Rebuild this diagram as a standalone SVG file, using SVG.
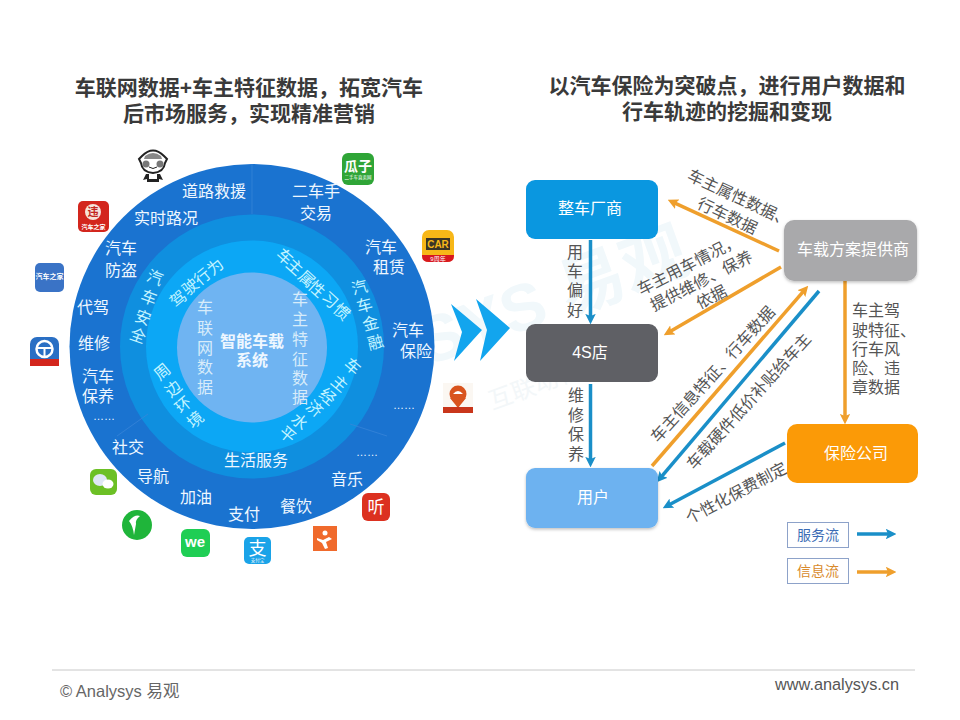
<svg xmlns="http://www.w3.org/2000/svg" width="960" height="720" viewBox="0 0 960 720">
<defs>
<style>
text{font-family:"Liberation Sans","Noto Sans CJK SC",sans-serif}
.t{font-size:21px;font-weight:700;fill:#3a3a3a;text-anchor:middle}
.w{font-size:16px;fill:#eef7ff;text-anchor:middle}
.d{font-size:11px;fill:#eef7ff;text-anchor:middle}
.c{font-size:16px;fill:#c4f4ff;text-anchor:middle}
.i{font-size:16px;fill:#d8ecfa;text-anchor:middle}
.n{font-size:16px;font-weight:700;fill:#eef7ff;text-anchor:middle}
.g{font-size:16px;fill:#555;text-anchor:middle}
.l{font-size:16px;fill:#555}
.b{font-size:16px;fill:#fff;text-anchor:middle}
.o{stroke:#ef9f2c;stroke-width:3.5;fill:none;marker-end:url(#ao)}
.s{stroke:#1a8fc8;stroke-width:3.5;fill:none;marker-end:url(#as)}
.wm{font-size:66px;fill:#f1f8fb;font-weight:700;text-anchor:middle}
.wm2{font-size:24px;fill:#f3f7f9;text-anchor:middle}
.x{fill:#fff;text-anchor:middle}
</style>
<marker id="ao" viewBox="0 0 5 5" markerWidth="3" markerHeight="3" refX="1.5" refY="2.5" orient="auto"><path d="M0 0L5 2.5L0 5L1 2.5Z" fill="#ef9f2c"/></marker>
<marker id="as" viewBox="0 0 5 5" markerWidth="3" markerHeight="3" refX="1.5" refY="2.5" orient="auto"><path d="M0 0L5 2.5L0 5L1 2.5Z" fill="#1a8fc8"/></marker>
<filter id="sh" x="-10%" y="-10%" width="120%" height="125%"><feDropShadow dx="0" dy="1.5" stdDeviation="1.5" flood-color="#000" flood-opacity=".25"/></filter>
</defs>
<rect width="960" height="720" fill="#fff"/>
<g id="watermark">
<text class="wm" transform="translate(560 318) rotate(-20)">SYS 易观</text>
<text class="wm2" transform="translate(560 385) rotate(-20)">互联动物联网</text>
</g>
<g id="titles">
<text class="t" x="249" y="95">车联网数据+车主特征数据，拓宽汽车</text>
<text class="t" x="249" y="121">后市场服务，实现精准营销</text>
<text class="t" x="727" y="93">以汽车保险为突破点，进行用户数据和</text>
<text class="t" x="727" y="119">行车轨迹的挖掘和变现</text>
</g>
<g id="wheel">
<circle cx="252" cy="346.500" r="182.500" fill="#1a73d0"/>
<circle cx="252" cy="346.500" r="132" fill="#0f8fdf"/>
<circle cx="252" cy="346.500" r="106" fill="#0ca7f5"/>
<circle cx="252" cy="347.500" r="75" fill="#6fb4f2"/>
<g stroke="#3b86d8" stroke-width="1" opacity=".7" fill="none"><path d="M252 164V214"/><path d="M117 436L148 414"/><path d="M387 436L350 424"/></g>
</g>
<g id="outer-labels">
<text class="w" x="214" y="197">道路救援</text>
<text class="w" x="166" y="224">实时路况</text>
<text class="w" x="121" y="254">汽车</text><text class="w" x="121" y="276">防盗</text>
<text class="w" x="93" y="313">代驾</text>
<text class="w" x="94" y="349">维修</text>
<text class="w" x="98" y="382">汽车</text><text class="w" x="98" y="402">保养</text>
<text class="d" x="104" y="420">……</text>
<text class="w" x="128" y="453">社交</text>
<text class="w" x="153" y="482">导航</text>
<text class="w" x="196" y="503">加油</text>
<text class="w" x="244" y="520">支付</text>
<text class="w" x="296" y="512">餐饮</text>
<text class="w" x="347" y="485">音乐</text>
<text class="d" x="367" y="456">……</text>
<text class="d" x="404" y="409">……</text>
<text class="w" x="408" y="336">汽车</text><text class="w" x="416" y="357">保险</text>
<text class="w" x="381" y="253">汽车</text><text class="w" x="389" y="273">租赁</text>
<text class="w" x="316" y="197">二车手</text><text class="w" x="316" y="219">交易</text>
<text class="w" x="256" y="466">生活服务</text>
</g>
<g id="ring-labels">
<text class="c" transform="translate(153 283) rotate(20)">汽</text>
<text class="c" transform="translate(147 303) rotate(20)">车</text>
<text class="c" transform="translate(141 323) rotate(20)">安</text>
<text class="c" transform="translate(136 341) rotate(20)">全</text>
<text class="c" transform="translate(361 293) rotate(-15)">汽</text>
<text class="c" transform="translate(366 311) rotate(-15)">车</text>
<text class="c" transform="translate(372 329) rotate(-15)">金</text>
<text class="c" transform="translate(377 348) rotate(-15)">融</text>
<text class="c" transform="translate(182 303) rotate(-40)">驾</text>
<text class="c" transform="translate(194 291) rotate(-40)">驶</text>
<text class="c" transform="translate(206 281) rotate(-40)">行</text>
<text class="c" transform="translate(219 271) rotate(-40)">为</text>
<text class="c" transform="translate(281 261) rotate(42)">车</text>
<text class="c" transform="translate(291 271) rotate(42)">主</text>
<text class="c" transform="translate(303 283) rotate(42)">属</text>
<text class="c" transform="translate(313 293) rotate(42)">性</text>
<text class="c" transform="translate(326 304) rotate(42)">习</text>
<text class="c" transform="translate(338 316) rotate(42)">惯</text>
<text class="c" transform="translate(166 376) rotate(-40)">周</text>
<text class="c" transform="translate(177 393) rotate(-40)">边</text>
<text class="c" transform="translate(187 409) rotate(-40)">环</text>
<text class="c" transform="translate(199 424) rotate(-40)">境</text>
<text class="c" transform="translate(349 371) rotate(40)">车</text>
<text class="c" transform="translate(336 388) rotate(40)">主</text>
<text class="c" transform="translate(324 401) rotate(40)">经</text>
<text class="c" transform="translate(311 413) rotate(40)">济</text>
<text class="c" transform="translate(296 426) rotate(40)">水</text>
<text class="c" transform="translate(284 439) rotate(40)">平</text>
</g>
<g id="inner-labels">
<text class="i" x="205" y="313">车</text><text class="i" x="205" y="334">联</text><text class="i" x="205" y="354">网</text><text class="i" x="205" y="373">数</text><text class="i" x="205" y="393">据</text>
<text class="i" x="300" y="305">车</text><text class="i" x="300" y="325">主</text><text class="i" x="300" y="345">特</text><text class="i" x="300" y="365">征</text><text class="i" x="300" y="384">数</text><text class="i" x="300" y="403">据</text>
<text class="n" x="252" y="347">智能车载</text>
<text class="n" x="252" y="366">系统</text>
</g>
<g id="icons">
<g id="icon-panda"><path d="M142 156q11-11 22 0l3 3-2 4q-1 9-12 10-11-1-12-10l-2-4z" fill="#fff" stroke="#222" stroke-width="2"/><path d="M145 156q8-6 16 0l1 3h-18z" fill="#888"/><circle cx="146" cy="164" r="3.500" fill="#777"/><circle cx="160" cy="164" r="3.500" fill="#777"/><path d="M149 167q4 3 8 0" stroke="#222" fill="none"/><path d="M146 174h14l3 6-4-1v3h-12v-3l-4 1z" fill="#222"/><rect x="149" y="174" width="8" height="5" fill="#fff"/></g>
<g id="icon-guazi"><rect x="342" y="153" width="32" height="32" rx="6" fill="#2fa537"/><text class="x" x="358" y="171" style="font-size:14px;font-weight:700">瓜子</text><text class="x" x="358" y="179" style="font-size:4.500px">二手车直卖网</text></g>
<g id="icon-car"><rect x="422" y="230" width="32" height="32" rx="7" fill="#f7b718"/><rect x="426" y="238" width="24" height="12" fill="#3a3426"/><path d="M422 255h32v1q0 6-7 6h-18q-7 0-7-6z" fill="#d8181f"/><text x="438" y="248" style="font-size:10px;font-weight:700;fill:#f7b718;text-anchor:middle">CAR</text><text class="x" x="438" y="261" style="font-size:6px">9周年</text></g>
<g id="icon-weizhang"><rect x="78" y="201" width="31" height="31" rx="5" fill="#d3261d"/><circle cx="93" cy="212" r="8" fill="#f6e4da"/><text x="93" y="216" style="font-size:11px;font-weight:700;fill:#c3261d;text-anchor:middle">违</text><text class="x" x="93.500" y="229" style="font-size:6px;font-weight:700">汽车之家</text></g>
<g id="icon-autohome"><rect x="35" y="263" width="29" height="29" rx="5" fill="#3a73c6"/><text class="x" x="49.500" y="279" style="font-size:7px;font-weight:700">汽车之家</text></g>
<g id="icon-wheel"><rect x="30" y="337" width="29" height="29" rx="7" fill="#2a6fc4"/><circle cx="44.500" cy="349" r="8" fill="none" stroke="#fff" stroke-width="2.500"/><path d="M37 348h15M44.500 349v7" stroke="#fff" stroke-width="2"/><rect x="30" y="359" width="29" height="7" fill="#d3261d"/></g>
<g id="icon-map"><rect x="443" y="383" width="30" height="30" fill="#fbf7f2"/><circle cx="458" cy="394" r="8.500" fill="#d9541e"/><path d="M450 398l8 10 8-10z" fill="#d9541e"/><path d="M453 394q5-6 10 0z" fill="#fff"/><rect x="443" y="407" width="30" height="6" fill="#c9361b"/></g>
<g id="icon-wechat"><rect x="90" y="469" width="27" height="26" rx="6" fill="#6cc025"/><ellipse cx="100" cy="480" rx="7" ry="6" fill="#dfe7f5"/><ellipse cx="108" cy="484" rx="5.500" ry="4.500" fill="#fff"/></g>
<g id="icon-green"><circle cx="137" cy="525" r="15" fill="#1fb53a"/><path d="M129 521q6-7 11-5-5 4-4 8l-2 11q-1-9-5-14z" fill="#fff"/></g>
<g id="icon-we"><rect x="181" y="529" width="29" height="28" rx="6" fill="#1fce54"/><text class="x" x="195" y="547" style="font-size:15px;font-weight:700">we</text></g>
<g id="icon-alipay"><rect x="244" y="537" width="27" height="27" rx="5" fill="#1aa3e8"/><text class="x" x="257.500" y="555" style="font-size:18px">支</text><text class="x" x="257.500" y="562" style="font-size:4.500px">支付宝</text></g>
<g id="icon-dianping"><rect x="313" y="526" width="24" height="25" fill="#f06a2c"/><circle cx="325" cy="533" r="2.500" fill="#fff"/><path d="M317 538l6 2 6-3 3 2-6 3 2 6-3 1-3-6-5-3z" fill="#fff"/></g>
<g id="icon-ting"><rect x="362" y="493" width="28" height="28" rx="6" fill="#dc3120"/><text class="x" x="376" y="513" style="font-size:17px">听</text></g>
</g>
<g id="chevrons" fill="#12a5ee"><path d="M451 304L482 330L454 361L462 332Z"/><path d="M476 299L510 328L480 361L487 330Z"/></g>
<g id="connectors">
<path class="s" d="M590.500 240V317"/>
<path class="s" d="M590.500 384V460"/>
<path class="o" d="M779 251L674.400 202.900"/>
<path class="o" d="M781 267L670.100 331.500"/>
<path class="o" d="M652 466L803.400 291.300"/>
<path class="s" d="M819 291L661.500 476.700"/>
<path class="s" d="M785 443L669.200 504.700"/>
<path class="o" d="M845 281V417"/>
</g>
<g id="flow-labels">
<text class="g" transform="translate(737 203) rotate(25)">车主属性数据、</text>
<text class="g" transform="translate(725 221) rotate(25)">行车数据</text>
<text class="g" transform="translate(691 270) rotate(-27)">车主用车情况，</text>
<text class="g" transform="translate(704 286) rotate(-27)">提供维修、保养</text>
<text class="g" transform="translate(714 302) rotate(-27)">依据</text>
<text class="g" transform="translate(717 378) rotate(-48)">车主信息特征、行车数据</text>
<text class="g" transform="translate(753 405) rotate(-48)">车载硬件低价补贴给车主</text>
<text class="g" transform="translate(739 498) rotate(-28)">个性化保费制定</text>
<text class="g" x="575" y="258">用</text><text class="g" x="575" y="277">车</text><text class="g" x="575" y="296">偏</text><text class="g" x="575" y="316">好</text>
<text class="g" x="576" y="401">维</text><text class="g" x="576" y="421">修</text><text class="g" x="576" y="440">保</text><text class="g" x="576" y="460">养</text>
<text class="l" x="852" y="316">车主驾</text>
<text class="l" x="852" y="336">驶特征、</text>
<text class="l" x="852" y="355">行车风</text>
<text class="l" x="852" y="374">险、违</text>
<text class="l" x="852" y="393">章数据</text>
</g>
<g id="node-oem"><rect x="526" y="180" width="132" height="59" rx="9" fill="#0a97e0"/><text class="b" x="590" y="214">整车厂商</text></g>
<g id="node-4s"><rect x="526" y="324" width="132" height="58" rx="9" fill="#5f6065"/><text class="b" x="590" y="358">4S店</text></g>
<g id="node-user"><rect x="526" y="468" width="132" height="60" rx="9" fill="#6db2f0" filter="url(#sh)"/><text class="b" x="593" y="503">用户</text></g>
<g id="node-provider"><rect x="784" y="220" width="133" height="61" rx="10" fill="#a9a9ab" filter="url(#sh)"/><text class="b" x="853" y="255">车载方案提供商</text></g>
<g id="node-insurance"><rect x="787" y="424" width="131" height="59" rx="10" fill="#fb9a07"/><text class="b" x="856" y="459">保险公司</text></g>
<g id="legend">
<g id="legend-service"><rect x="787.500" y="522.500" width="61" height="25" fill="#fff" stroke="#8da2c9"/><text x="818" y="540" style="font-size:14px;fill:#3b6cb5;text-anchor:middle">服务流</text><path class="s" d="M857 534H889"/></g>
<g id="legend-info"><rect x="787.500" y="558.500" width="61" height="25" fill="#fff" stroke="#8da2c9"/><text x="818" y="576" style="font-size:14px;fill:#d98a2c;text-anchor:middle">信息流</text><path class="o" d="M857 572H889"/></g>
</g>
<g id="footer">
<path d="M52 670H915" stroke="#c8c8c8"/>
<text x="60" y="697" style="font-size:16.500px;fill:#666">© Analysys 易观</text>
<text x="899" y="690" style="font-size:16.300px;fill:#555;text-anchor:end">www.analysys.cn</text>
</g>
</svg>
